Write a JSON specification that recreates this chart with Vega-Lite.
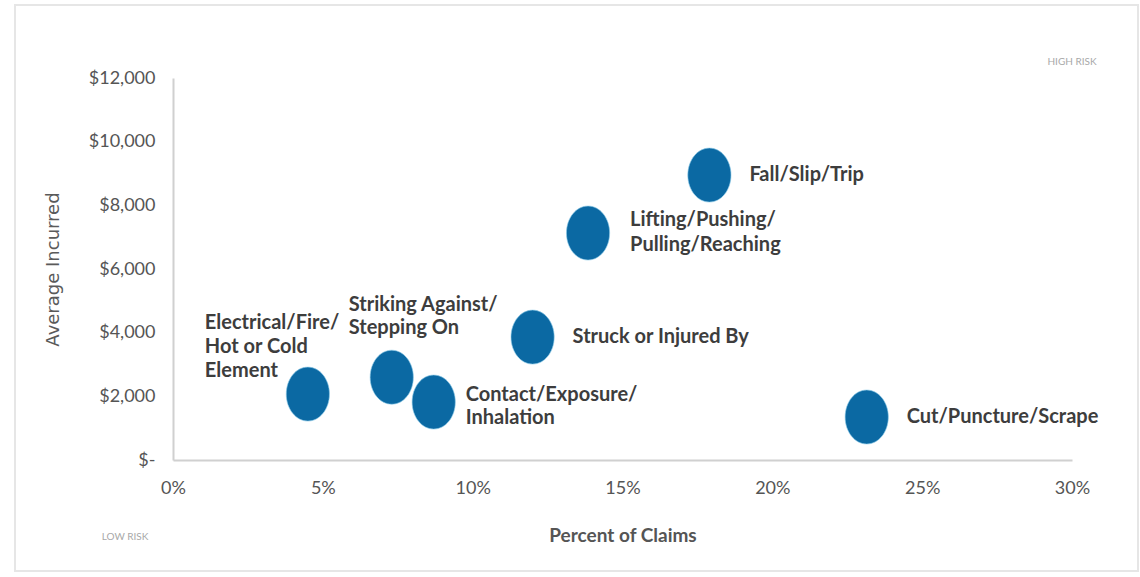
{
  "$schema": "https://vega.github.io/schema/vega-lite/v6.json",
  "width": 1123,
  "height": 566,
  "autosize": {"type": "none"},
  "padding": {"left": 15, "top": 5, "right": 2, "bottom": 6},
  "background": "white",
  "config": {
    "view": {"stroke": "#e6e6e6", "strokeWidth": 2},
    "font": "Lato"
  },
  "data": {
    "values": [
      {"cause": "Fall/Slip/Trip", "label": "Fall/Slip/Trip", "pct": 17.9, "avg": 8950},
      {"cause": "Lifting/Pushing/Pulling/Reaching", "label": "Lifting/Pushing/\nPulling/Reaching", "pct": 13.85, "avg": 7130},
      {"cause": "Struck or Injured By", "label": "Struck or Injured By", "pct": 12.0, "avg": 3860},
      {"cause": "Striking Against/Stepping On", "label": "Striking Against/\nStepping On", "pct": 7.3, "avg": 2600},
      {"cause": "Contact/Exposure/Inhalation", "label": "Contact/Exposure/\nInhalation", "pct": 8.7, "avg": 1820},
      {"cause": "Electrical/Fire/Hot or Cold Element", "label": "Electrical/Fire/\nHot or Cold\nElement", "pct": 4.5, "avg": 2070},
      {"cause": "Cut/Puncture/Scrape", "label": "Cut/Puncture/Scrape", "pct": 23.15, "avg": 1350}
    ]
  },
  "encoding": {
    "x": {
      "field": "pct",
      "type": "quantitative",
      "scale": {"domain": [0, 30], "range": [158, 1057], "zero": false, "nice": false},
      "axis": {
        "title": "Percent of Claims",
        "values": [0, 5, 10, 15, 20, 25, 30],
        "labelExpr": "datum.value + '%'",
        "offset": -111,
        "ticks": false,
        "grid": false,
        "labelFlush": false,
        "domainColor": "#d0d0d0",
        "domainWidth": 2,
        "labelFont": "Lato",
        "labelFontSize": 18,
        "labelColor": "#555555",
        "labelPadding": 19,
        "titleFont": "Lato",
        "titleFontSize": 19,
        "titleFontWeight": "bold",
        "titleColor": "#555555",
        "titlePadding": 29
      }
    },
    "y": {
      "field": "avg",
      "type": "quantitative",
      "scale": {"domain": [0, 12000], "range": [455, 73], "zero": false, "nice": false},
      "axis": {
        "title": "Average Incurred",
        "values": [0, 2000, 4000, 6000, 8000, 10000, 12000],
        "labelExpr": "datum.value == 0 ? '$-' : '$' + format(datum.value, ',')",
        "offset": -158,
        "ticks": false,
        "grid": false,
        "labelFlush": false,
        "domainColor": "#d0d0d0",
        "domainWidth": 2,
        "labelFont": "Lato",
        "labelFontSize": 18,
        "labelColor": "#555555",
        "labelPadding": 18,
        "titleFont": "DejaVu Sans",
        "titleFontSize": 18,
        "titleFontWeight": "normal",
        "titleColor": "#5a5a5a",
        "titlePadding": 26
      }
    }
  },
  "layer": [
    {
      "mark": {
        "type": "point",
        "shape": "M-0.8,0A0.8,1,0,1,0,0.8,0A0.8,1,0,1,0,-0.8,0Z",
        "filled": true,
        "size": 2916,
        "color": "#0b69a3",
        "opacity": 1,
        "stroke": "#8ccbea",
        "strokeWidth": 1,
        "strokeOpacity": 0.6
      }
    },
    {
      "transform": [{"filter": {"field": "cause", "oneOf": ["Fall/Slip/Trip", "Struck or Injured By", "Cut/Puncture/Scrape"]}}],
      "mark": {"type": "text", "align": "left", "baseline": "middle", "dx": 40, "font": "Lato", "fontWeight": "bold", "fontSize": 20, "color": "#3d3d3d", "lineBreak": "\n", "lineHeight": 23},
      "encoding": {"text": {"field": "label"}}
    },
    {
      "transform": [{"filter": {"field": "cause", "equal": "Lifting/Pushing/Pulling/Reaching"}}],
      "mark": {"type": "text", "align": "left", "baseline": "middle", "dx": 42, "dy": -13, "font": "Lato", "fontWeight": "bold", "fontSize": 20, "color": "#3d3d3d", "lineBreak": "\n", "lineHeight": 25},
      "encoding": {"text": {"field": "label"}}
    },
    {
      "transform": [{"filter": {"field": "cause", "equal": "Contact/Exposure/Inhalation"}}],
      "mark": {"type": "text", "align": "left", "baseline": "middle", "dx": 32, "dy": -7, "font": "Lato", "fontWeight": "bold", "fontSize": 20, "color": "#3d3d3d", "lineBreak": "\n", "lineHeight": 23},
      "encoding": {"text": {"field": "label"}}
    },
    {
      "transform": [{"filter": {"field": "cause", "equal": "Striking Against/Stepping On"}}],
      "mark": {"type": "text", "align": "left", "baseline": "middle", "dx": -43, "dy": -72, "font": "Lato", "fontWeight": "bold", "fontSize": 20, "color": "#3d3d3d", "lineBreak": "\n", "lineHeight": 23},
      "encoding": {"text": {"field": "label"}}
    },
    {
      "transform": [{"filter": {"field": "cause", "equal": "Electrical/Fire/Hot or Cold Element"}}],
      "mark": {"type": "text", "align": "left", "baseline": "middle", "dx": -103, "dy": -71, "font": "Lato", "fontWeight": "bold", "fontSize": 20, "color": "#3d3d3d", "lineBreak": "\n", "lineHeight": 24},
      "encoding": {"text": {"field": "label"}}
    },
    {
      "data": {
        "values": [
          {"label": "HIGH RISK", "pct": 30.0, "avg": 12500},
          {"label": "LOW RISK", "pct": -1.6, "avg": -2420}
        ]
      },
      "mark": {"type": "text", "align": "center", "baseline": "middle", "font": "Lato", "fontSize": 10, "color": "#a8a8a8"},
      "encoding": {"text": {"field": "label"}}
    }
  ]
}
